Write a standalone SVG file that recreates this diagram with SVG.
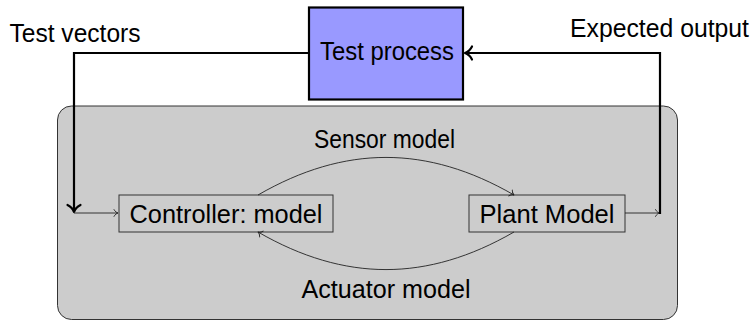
<svg xmlns="http://www.w3.org/2000/svg" width="754" height="321" viewBox="0 0 754 321">
  <style>
    text { font-family: "Liberation Sans", Arial, sans-serif; font-size: 25px; fill: #000; text-anchor: middle; }
    .thick { fill: none; stroke: #000; stroke-width: 2.2; }
    .thin { fill: none; stroke: #222; stroke-width: 0.9; }
    .model { fill: #cccccc; stroke: #333; stroke-width: 1; }
  </style>
  <defs>
    <marker id="headThick" markerUnits="userSpaceOnUse" orient="auto" refX="0" refY="0" overflow="visible">
      <path d="M -7,-6.5 C -5,-2.5 -1.5,-0.5 0,0 C -1.5,0.5 -5,2.5 -7,6.5" fill="none" stroke="#000" stroke-width="2.2" stroke-linecap="round" stroke-linejoin="round"/>
    </marker>
    <marker id="headThin" markerUnits="userSpaceOnUse" orient="auto" refX="0" refY="0" overflow="visible">
      <path d="M -4,-3.4 C -3,-1.3 -1,-0.3 0,0 C -1,0.3 -3,1.3 -4,3.4" fill="none" stroke="#222" stroke-width="0.9" stroke-linecap="round" stroke-linejoin="round"/>
    </marker>
  </defs>

  <!-- simulated system enclosure -->
  <rect id="system" x="57.5" y="106" width="620" height="213.5" rx="14" ry="14" fill="#cccccc" stroke="#333" stroke-width="1"/>

  <!-- test harness -->
  <g id="test-process">
    <rect x="309" y="7.5" width="154" height="92" fill="#9999ff" stroke="#000" stroke-width="2.2"/>
    <text x="387" y="60" textLength="134" lengthAdjust="spacingAndGlyphs">Test process</text>
  </g>

  <g id="controller">
    <rect class="model" x="119" y="195" width="214" height="37"/>
    <text x="226" y="222.5" textLength="193" lengthAdjust="spacingAndGlyphs">Controller: model</text>
  </g>

  <g id="plant">
    <rect class="model" x="469" y="195" width="156" height="37"/>
    <text x="547" y="222.5" textLength="135" lengthAdjust="spacingAndGlyphs">Plant Model</text>
  </g>

  <g id="connectors">
    <!-- stimulus path into the controller -->
    <path class="thick" d="M 309,53 H 74 V 212" marker-end="url(#headThick)"/>
    <path class="thin" d="M 74,213 H 118" marker-end="url(#headThin)"/>
    <!-- observed output back to the test process -->
    <path class="thin" d="M 625,213 H 659.5" marker-end="url(#headThin)"/>
    <path class="thick" d="M 660,214 V 53 H 465" marker-end="url(#headThick)"/>
    <!-- sensor and actuator loops -->
    <path class="thin" d="M 258,195 C 344.8,144.9 427.2,144.9 514,195" marker-end="url(#headThin)"/>
    <path class="thin" d="M 514,232 C 427.2,282.1 344.8,282.1 258,232" marker-end="url(#headThin)"/>
  </g>

  <g id="labels">
    <text x="75" y="42" textLength="131" lengthAdjust="spacingAndGlyphs">Test vectors</text>
    <text x="659.5" y="37" textLength="179" lengthAdjust="spacingAndGlyphs">Expected output</text>
    <text x="384.5" y="147.5" textLength="141" lengthAdjust="spacingAndGlyphs">Sensor model</text>
    <text x="386" y="297.5" textLength="169" lengthAdjust="spacingAndGlyphs">Actuator model</text>
  </g>
</svg>
